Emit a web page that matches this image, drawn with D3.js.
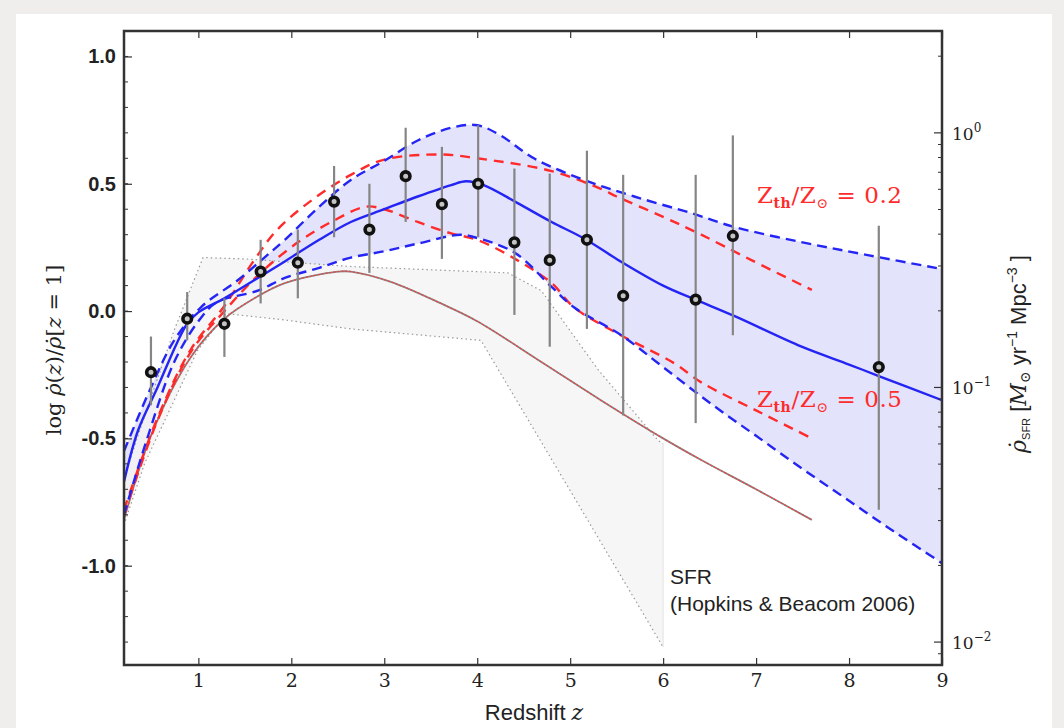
<!DOCTYPE html>
<html><head><meta charset="utf-8">
<script src="https://cdn.jsdelivr.net/npm/d3@7"></script>
<style>body{margin:0;background:#efeeec}svg{display:block}</style>
</head><body>
<svg id="chart" width="1064" height="728"></svg>
<script>
// ---------------- data ----------------
const xTicks = [1,2,3,4,5,6,7,8,9];
const yTicks = [1.0,0.5,0.0,-0.5,-1.0];
const rightMajor = [1, 0.1, 0.01];
const rightLabels = ["0","\u22121","\u22122"];

// observed points (redshift, log rho, error top, error bottom)
const obsZ   = [0.49,0.88,1.28,1.67,2.07,2.46,2.84,3.23,3.62,4.01,4.40,4.78,5.18,5.57,6.35,6.75,8.32];
const obsV   = [-0.24,-0.03,-0.05,0.155,0.19,0.43,0.32,0.53,0.42,0.50,0.27,0.20,0.28,0.06,0.045,0.295,-0.22];
const obsHi  = [-0.10,0.075,0.05,0.28,0.32,0.57,0.50,0.72,0.645,0.73,0.56,0.54,0.63,0.535,0.535,0.69,0.335];
const obsLo  = [-0.37,-0.115,-0.18,0.03,0.05,0.29,0.15,0.35,0.205,0.29,-0.015,-0.14,-0.07,-0.41,-0.44,-0.095,-0.78];

// GRB-inferred rate: central fit and envelope
const fitMid = [[0.2,-0.67],[0.35,-0.47],[0.56,-0.30],[0.77,-0.125],[0.88,-0.05],[1.0,-0.005],[1.28,0.05],[1.64,0.13],[1.93,0.195],[2.3,0.28],[2.64,0.35],[3.0,0.40],[3.36,0.45],[3.72,0.495],[3.88,0.51],[4.07,0.495],[4.43,0.425],[4.8,0.35],[5.15,0.285],[5.52,0.2],[6.0,0.1],[6.36,0.043],[6.77,-0.02],[7.49,-0.14],[8.0,-0.21],[8.32,-0.255],[9.0,-0.35]];
const fitUp  = [[0.2,-0.55],[0.49,-0.30],[0.74,-0.115],[1.03,0.016],[1.42,0.12],[1.71,0.21],[1.93,0.28],[2.3,0.41],[2.64,0.515],[3.0,0.59],[3.36,0.67],[3.72,0.72],[4.0,0.73],[4.25,0.69],[4.61,0.60],[5.15,0.515],[5.69,0.45],[6.3,0.385],[6.77,0.33],[7.5,0.27],[8.2,0.22],[9.0,0.165]];
const fitLow = [[0.2,-0.80],[0.45,-0.5],[0.74,-0.2],[1.0,-0.04],[1.2,0.035],[1.64,0.08],[1.93,0.13],[2.3,0.17],[2.64,0.21],[3.0,0.235],[3.36,0.265],[3.82,0.30],[3.97,0.29],[4.4,0.23],[4.8,0.095],[5.04,0.015],[5.55,-0.095],[6.0,-0.22],[6.5,-0.36],[7.0,-0.49],[7.5,-0.62],[8.0,-0.745],[8.5,-0.87],[9.0,-0.99]];

// metallicity threshold models
const zth02 = [[0.2,-0.78],[0.56,-0.42],[0.92,-0.15],[1.28,0.02],[1.6,0.2],[1.85,0.32],[2.2,0.43],[2.64,0.535],[3.0,0.595],[3.61,0.615],[4.0,0.60],[4.8,0.55],[5.33,0.48],[5.5,0.45],[6.0,0.37],[6.41,0.30],[6.95,0.2],[7.6,0.083]];
const zth05 = [[0.2,-0.80],[0.56,-0.43],[0.92,-0.16],[1.28,0.0],[1.67,0.15],[2.07,0.27],[2.43,0.35],[2.8,0.41],[3.0,0.40],[3.36,0.35],[3.72,0.305],[4.0,0.28],[4.43,0.2],[4.8,0.11],[5.04,0.015],[5.52,-0.09],[6.12,-0.205],[6.41,-0.28],[7.0,-0.39],[7.6,-0.50]];

// SFR (Hopkins & Beacom 2006) fit and its uncertainty region
const sfrFit = [[0.2,-0.82],[0.5,-0.48],[0.92,-0.18],[1.28,-0.03],[1.6,0.05],[1.93,0.11],[2.5,0.155],[2.64,0.155],[3.07,0.115],[3.61,0.03],[4.0,-0.04],[4.69,-0.2],[5.33,-0.35],[6.0,-0.5],[6.41,-0.585],[7.0,-0.70],[7.6,-0.82]];
const sfrUp  = [[0.2,-0.66],[0.34,-0.5],[0.74,-0.075],[1.05,0.21],[1.5,0.205],[2.64,0.175],[4.33,0.15],[4.69,0.08],[5.3,-0.23],[5.95,-0.51],[6.0,-0.52]];
const sfrLow = [[0.2,-0.84],[0.42,-0.6],[0.99,-0.155],[1.3,-0.01],[1.93,-0.035],[2.64,-0.07],[4.04,-0.115],[6.0,-1.32]];

const rightOffset = 0.70; // log rho_SFR = left value - offset

// ---------------- drawing ----------------
const svg = d3.select("#chart");
svg.append("rect").attr("x",16).attr("y",14).attr("width",1036).attr("height",714).attr("fill","#ffffff");

const x = d3.scaleLinear().domain([0.2,9.0]).range([124,942]);
const y = d3.scaleLinear().domain([-1.39,1.10]).range([665,31]);
const yR = d3.scaleLog().domain([Math.pow(10,-1.39-rightOffset), Math.pow(10,1.10-rightOffset)]).range([665,31]);

const BLUE="#2424f4", RED="#ff2b2b";
svg.append("clipPath").attr("id","clip").append("rect").attr("x",124).attr("y",31).attr("width",818).attr("height",634);
const g = svg.append("g").attr("clip-path","url(#clip)");

const line = d3.line().x(d=>x(d[0])).y(d=>y(d[1])).curve(d3.curveCatmullRom.alpha(0.5));
const lineLin = d3.line().x(d=>x(d[0])).y(d=>y(d[1]));

// blue envelope fill
const upPath = line(fitUp);
const lowRev = line(fitLow.slice().reverse());
g.append("path").attr("d", upPath + "L" + lowRev.slice(1) + "Z").attr("fill","#e3e3fb").attr("stroke","none");

// SFR uncertainty region
const sfrPoly = sfrUp.concat(sfrLow.slice().reverse());
g.append("path").attr("d", lineLin(sfrPoly)+"Z").attr("fill","#f4f4f4").attr("fill-opacity",0.8).attr("stroke","none");
g.append("path").attr("d", lineLin(sfrUp)).attr("fill","none").attr("stroke","#999").attr("stroke-width",1.2).attr("stroke-dasharray","1.5,3");
g.append("path").attr("d", lineLin(sfrLow)).attr("fill","none").attr("stroke","#999").attr("stroke-width",1.2).attr("stroke-dasharray","1.5,3");
g.append("line").attr("x1",x(6)).attr("x2",x(6)).attr("y1",y(-0.52)).attr("y2",y(-1.32)).attr("stroke","#e2e2e2").attr("stroke-width",1);

// SFR fit line: gray with red dotted overlay
g.append("path").attr("d", line(sfrFit)).attr("fill","none").attr("stroke","#8a8080").attr("stroke-width",1.8);
g.append("path").attr("d", line(sfrFit)).attr("fill","none").attr("stroke","#ff3a3a").attr("stroke-width",1.1).attr("stroke-dasharray","2,2");

// metallicity models
[zth02, zth05].forEach(d=>{
  g.append("path").attr("d", line(d)).attr("fill","none").attr("stroke",RED).attr("stroke-width",2.4).attr("stroke-dasharray","10,7");
});
// envelope dashed
[fitUp, fitLow].forEach(d=>{
  g.append("path").attr("d", line(d)).attr("fill","none").attr("stroke",BLUE).attr("stroke-width",2.4).attr("stroke-dasharray","10,6");
});
g.append("path").attr("d", line(fitMid)).attr("fill","none").attr("stroke",BLUE).attr("stroke-width",2.4);

// error bars and points
const obs = obsZ.map((z,i)=>({z, v:obsV[i], hi:obsHi[i], lo:obsLo[i]}));
g.selectAll(".eb").data(obs).enter().append("line")
  .attr("x1",d=>x(d.z)).attr("x2",d=>x(d.z)).attr("y1",d=>y(d.hi)).attr("y2",d=>y(d.lo))
  .attr("stroke","#858585").attr("stroke-width",2.2);
g.selectAll(".pt").data(obs).enter().append("circle")
  .attr("cx",d=>x(d.z)).attr("cy",d=>y(d.v)).attr("r",4.3)
  .attr("fill","#c4c4c4").attr("stroke","#111").attr("stroke-width",3.6);

// ---------------- axes ----------------
const axisCol = "#333";
// left axis
const yMinor = d3.range(-13,11).map(i=>i/10).filter(v=>v>=-1.39 && v<=1.10);
const gl = svg.append("g").attr("transform","translate(124,0)");
gl.selectAll(".mn").data(yMinor).enter().append("line").attr("x1",0).attr("x2",4).attr("y1",d=>y(d)).attr("y2",d=>y(d)).attr("stroke",axisCol).attr("stroke-width",1);
const yAx = d3.axisLeft(y).tickValues(yTicks).tickSizeInner(-8).tickSizeOuter(0).tickPadding(8).tickFormat(d3.format(".1f"));
gl.call(yAx);
gl.select(".domain").remove();
gl.selectAll(".tick line").attr("stroke",axisCol).attr("stroke-width",1.2);
gl.selectAll(".tick text").attr("font-family","'Liberation Sans', Arial, sans-serif").attr("font-size",20).attr("fill","#222").attr("font-weight","bold").attr("stroke","none")
  .text(d=> d<0 ? "-"+d3.format(".1f")(-d) : d3.format(".1f")(d));

// bottom axis
const gb = svg.append("g").attr("transform","translate(0,665)");
gb.call(d3.axisBottom(x).tickValues(xTicks).tickSizeInner(-7).tickSizeOuter(0).tickPadding(9).tickFormat(d3.format("d")));
gb.select(".domain").remove();
gb.selectAll(".tick line").attr("stroke",axisCol).attr("stroke-width",1.2);
gb.selectAll(".tick text").attr("font-family","'DejaVu Serif', 'Liberation Serif', serif").attr("font-size",19).attr("fill","#222");

// top axis ticks
const gt = svg.append("g").attr("transform","translate(0,31)");
gt.call(d3.axisTop(x).tickValues(xTicks).tickSizeInner(-7).tickSizeOuter(0).tickFormat(""));
gt.select(".domain").remove();
gt.selectAll(".tick line").attr("stroke",axisCol).attr("stroke-width",1.2);

// right log axis
const rMinor = [];
[0.001,0.01,0.1,1].forEach(p=>{ for(let k=2;k<=9;k++){ const v=k*p; if(v>yR.domain()[0] && v<yR.domain()[1]) rMinor.push(v);} });
const gr = svg.append("g").attr("transform","translate(942,0)");
gr.selectAll(".rmn").data(rMinor).enter().append("line").attr("x1",0).attr("x2",-4).attr("y1",d=>yR(d)).attr("y2",d=>yR(d)).attr("stroke",axisCol).attr("stroke-width",1);
gr.selectAll(".rmj").data(rightMajor).enter().append("line").attr("x1",0).attr("x2",-8).attr("y1",d=>yR(d)).attr("y2",d=>yR(d)).attr("stroke",axisCol).attr("stroke-width",1.2);
const rt = gr.selectAll(".rlab").data(rightMajor).enter().append("text")
  .attr("x",10).attr("y",d=>yR(d)+7).attr("font-family","'DejaVu Serif', 'Liberation Serif', serif").attr("font-size",17).attr("fill","#222");
rt.append("tspan").text("10");
rt.append("tspan").attr("dy",-8).attr("font-size",12).text((d,i)=>rightLabels[i]);

// frame
svg.append("rect").attr("x",124).attr("y",31).attr("width",818).attr("height",634).attr("fill","none").attr("stroke",axisCol).attr("stroke-width",2.5);

// ---------------- labels ----------------
svg.append("text").attr("x",534).attr("y",720).attr("text-anchor","middle").attr("font-family","'Liberation Sans', Arial, sans-serif").attr("font-size",22).attr("fill","#222")
  .call(t=>{ t.append("tspan").text("Redshift "); t.append("tspan").attr("font-family","'DejaVu Serif', serif").attr("font-style","italic").text("z"); });

const yl = svg.append("text").attr("transform","translate(61,350) rotate(-90)").attr("text-anchor","middle")
  .attr("font-family","'DejaVu Serif', 'Liberation Serif', serif").attr("font-size",21).attr("fill","#222");
yl.append("tspan").text("log  ");
yl.append("tspan").attr("font-style","italic").text("\u03C1\u0307");
yl.append("tspan").text("(");
yl.append("tspan").attr("font-style","italic").text("z");
yl.append("tspan").text(")/");
yl.append("tspan").attr("font-style","italic").text("\u03C1\u0307");
yl.append("tspan").text("[");
yl.append("tspan").attr("font-style","italic").text("z");
yl.append("tspan").text(" = 1]");

const yr = svg.append("text").attr("transform","translate(1026,354) rotate(-90)").attr("text-anchor","middle")
  .attr("font-family","'Liberation Sans', Arial, sans-serif").attr("font-size",22).attr("fill","#222");
yr.append("tspan").attr("font-family","'DejaVu Serif', serif").attr("font-style","italic").text("\u03C1\u0307");
yr.append("tspan").attr("font-size",11).attr("dy",4).text("SFR");
yr.append("tspan").attr("dy",-4).text(" [");
yr.append("tspan").attr("font-family","'DejaVu Serif', serif").attr("font-style","italic").text("M");
yr.append("tspan").attr("font-family","'DejaVu Serif', serif").attr("font-size",14).attr("dy",4).text("\u2299");
yr.append("tspan").attr("dy",-4).text(" yr");
yr.append("tspan").attr("font-size",14).attr("dy",-9).text("\u22121");
yr.append("tspan").attr("dy",9).text(" Mpc");
yr.append("tspan").attr("font-size",14).attr("dy",-9).text("\u22123");
yr.append("tspan").attr("dy",9).text(" ]");

function zLabel(xp, yp, val){
  const t = svg.append("text").attr("x",xp).attr("y",yp).attr("font-family","'DejaVu Serif', 'Liberation Serif', serif").attr("font-size",23).attr("fill",RED).attr("textLength",145).attr("lengthAdjust","spacing");
  t.append("tspan").text("Z");
  t.append("tspan").attr("font-size",14).attr("font-weight","bold").attr("dy",5).text("th");
  t.append("tspan").attr("dy",-5).text("/Z");
  t.append("tspan").attr("font-size",14).attr("dy",5).text("\u2299");
  t.append("tspan").attr("dy",-5).text(" = "+val);
}
zLabel(757, 203, "0.2");
zLabel(757, 407, "0.5");

svg.append("text").attr("x",670).attr("y",584).attr("font-family","'Liberation Sans', Arial, sans-serif").attr("font-size",21).attr("fill","#222").text("SFR");
svg.append("text").attr("x",670).attr("y",611).attr("font-family","'Liberation Sans', Arial, sans-serif").attr("font-size",21).attr("fill","#222").text("(Hopkins & Beacom 2006)");
</script>
</body></html>
